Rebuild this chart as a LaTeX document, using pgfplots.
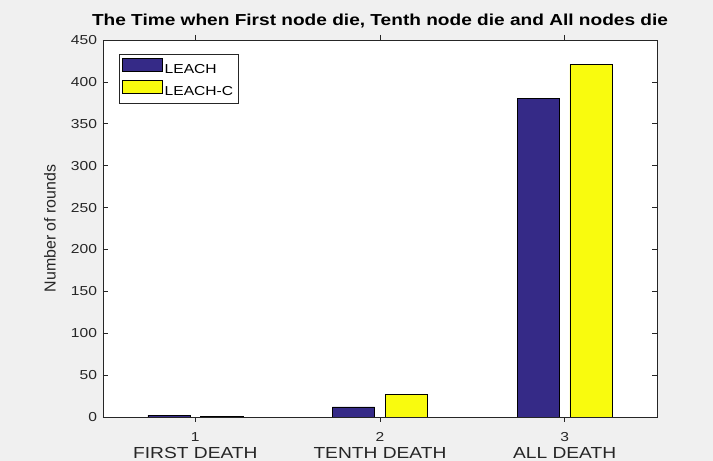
\documentclass[border=0pt]{standalone}
\usepackage{pgfplots}
\pgfplotsset{compat=1.18}
\usepackage{fontspec}
\setmainfont{Liberation Sans}[FakeStretch=1.2]
\newfontfamily\ylabfont{Liberation Sans}
\usetikzlibrary{backgrounds}
\definecolor{leach}{RGB}{53,42,135}
\definecolor{leachc}{RGB}{249,251,14}
\definecolor{figbg}{RGB}{240,240,240}
\definecolor{axgray}{RGB}{38,38,38}
\begin{document}
\begin{tikzpicture}
\begin{axis}[name=ax, at={(0,0)}, anchor=south west,
  scale only axis, width=554pt, height=377pt,
  xmin=0.5, xmax=3.5, ymin=0, ymax=450,
  xtick={1,2,3}, xticklabels={1,2,3},
  ytick={0,50,...,450},
  extra x ticks={1,2,3},
  extra x tick labels={FIRST DEATH,TENTH DEATH,ALL DEATH},
  extra x tick style={major tick length=0pt, tick label style={font=\fontsize{16}{18}\selectfont, yshift=-20pt}},
  tick align=inside, tick pos=both, major tick length=5pt,
  axis line style={axgray, line width=0.6pt}, tick style={axgray, line width=0.6pt},
  tick label style={font=\fontsize{13}{15}\selectfont, text=axgray},
  /pgf/number format/assume math mode=true,
  xticklabel style={yshift=-7pt},
  yticklabel style={xshift=-2.5pt},
  axis background/.style={fill=white},
  ylabel={\ylabfont\fontsize{15.9}{18}\selectfont Number of rounds},
  every axis y label/.style={at={(axis description cs:-0.0957,0.5)}, rotate=90, anchor=center, text=axgray},
  title={\bfseries The Time when First node die, Tenth node die and All nodes die},
  title style={at={(axis description cs:0.5,1)}, anchor=base, yshift=8.3pt, font=\fontsize{15.9}{18}\selectfont},
  ybar, bar width=0.229,
  legend style={at={(axis description cs:0.0289,0.9629)}, anchor=north west, draw=axgray, font=\fontsize{13}{15}\selectfont, inner xsep=3pt, inner ysep=4pt, cells={anchor=west}, row sep=3.5pt},
  legend cell align=left,
]
\addplot[fill=leach, draw=black, line width=0.5pt, bar shift=-0.143,
  legend image code/.code={\draw[fill=leach, draw=black, line width=0.5pt] (0pt,-2pt) rectangle (40pt,11pt);}]
  coordinates {(1,2) (2,12) (3,380)};
\addplot[fill=leachc, draw=black, line width=0.5pt, bar shift=0.143,
  legend image code/.code={\draw[fill=leachc, draw=black, line width=0.5pt] (0pt,-2pt) rectangle (40pt,11pt);}]
  coordinates {(1,1) (2,27) (3,421)};
\legend{LEACH,LEACH-C}
\end{axis}
\begin{pgfonlayer}{background}
\fill[figbg] ([xshift=-103pt,yshift=-44pt]ax.south west) rectangle ([xshift=56pt,yshift=40pt]ax.north east);
\end{pgfonlayer}
\pgfresetboundingbox
\path[use as bounding box] ([xshift=-103pt,yshift=-44pt]ax.south west) rectangle ([xshift=56pt,yshift=40pt]ax.north east);
\end{tikzpicture}
\end{document}
